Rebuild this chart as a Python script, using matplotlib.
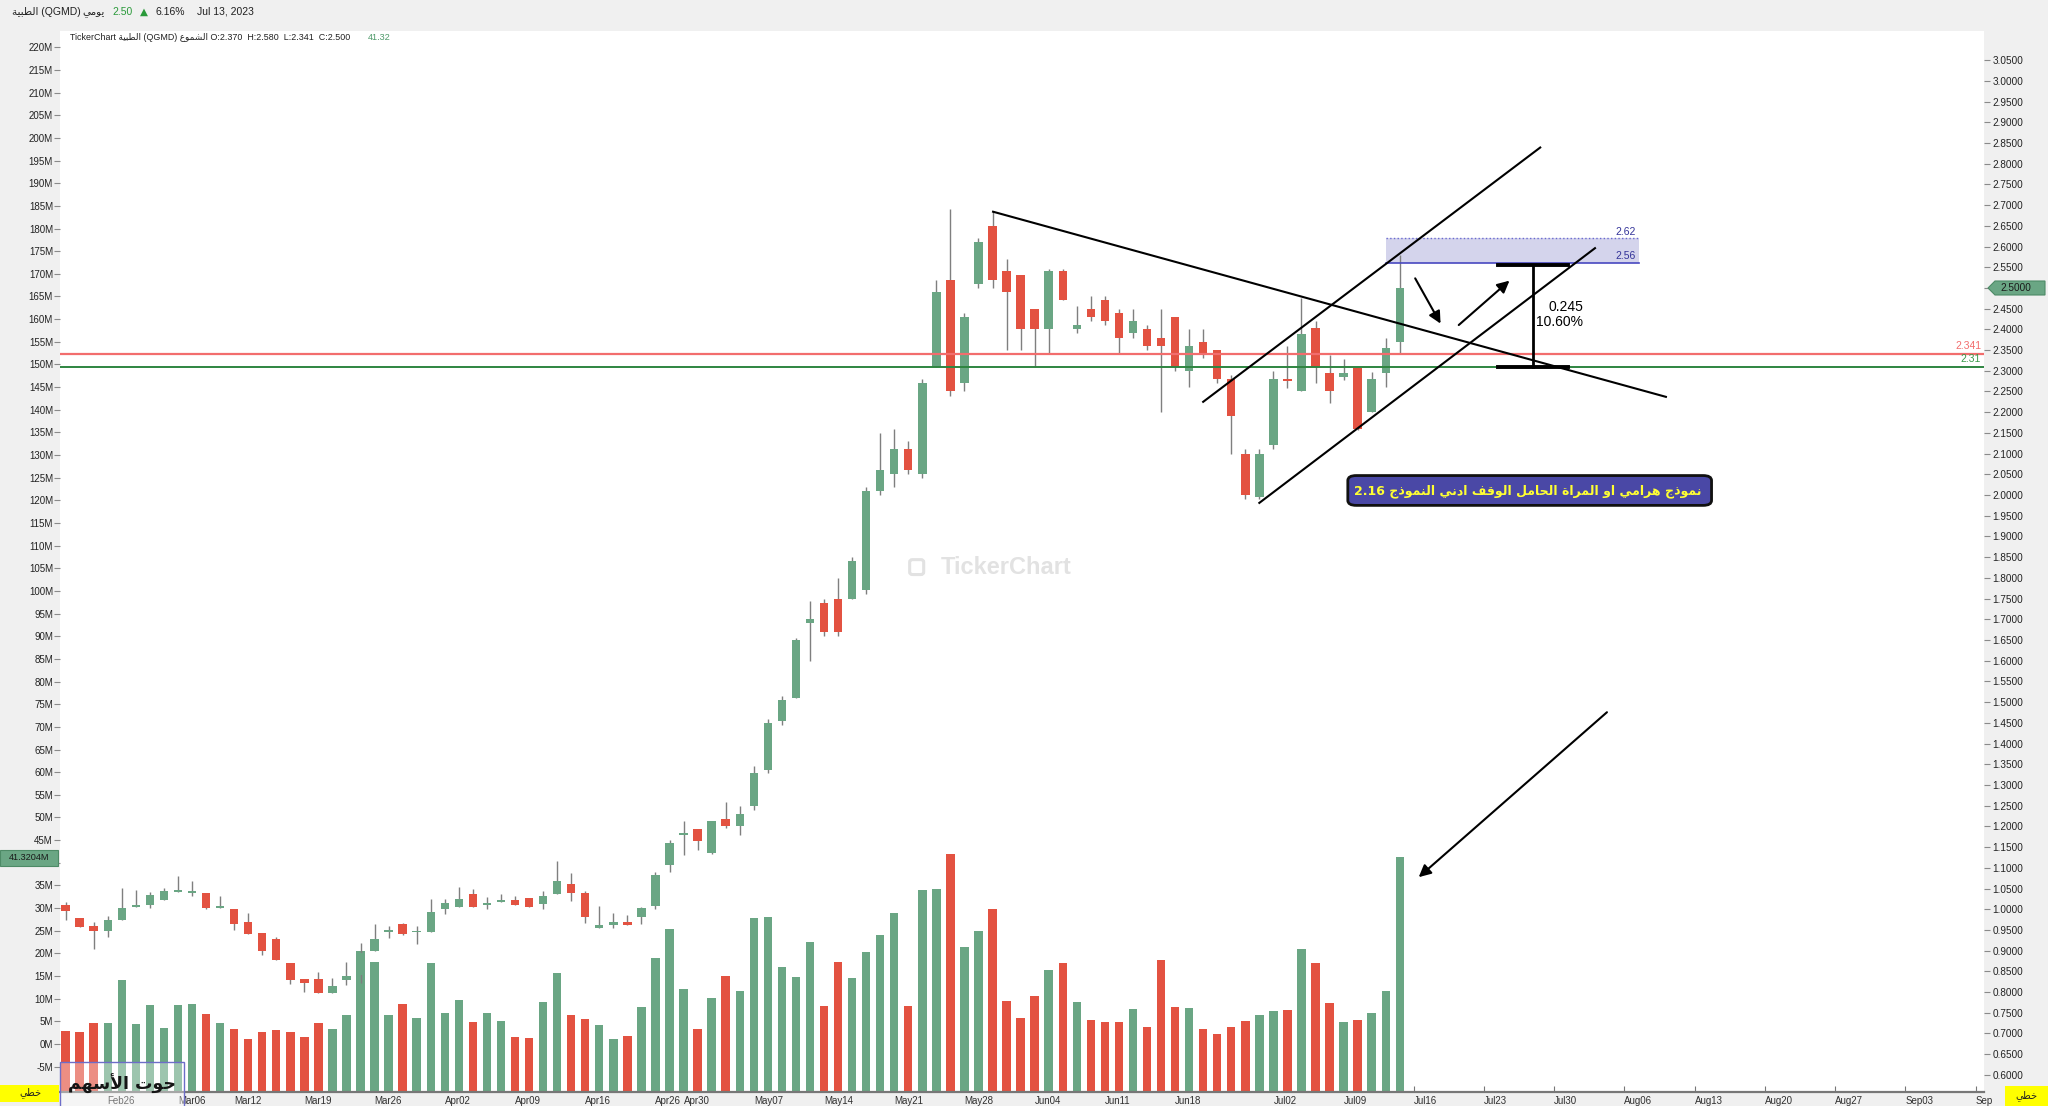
import matplotlib
matplotlib.use("Agg")
import matplotlib.pyplot as plt
from matplotlib.patches import Rectangle, FancyBboxPatch, Polygon
import numpy as np
import pandas as pd

plt.rcParams['font.family'] = ['Liberation Sans', 'DejaVu Sans']

# ---------------------------------------------------------------- data
opens = [1.009, 0.979, 0.959, 0.948, 0.975, 1.006, 1.010, 1.022, 1.042, 1.040,
         1.039, 1.004, 1.000, 0.969, 0.942, 0.928, 0.870, 0.831, 0.831, 0.797,
         0.830, 0.840, 0.898, 0.944, 0.964, 0.944, 0.944, 1.000, 1.006, 1.037,
         1.011, 1.017, 1.022, 1.028, 1.012, 1.036, 1.062, 1.039, 0.954, 0.963,
         0.968, 0.982, 1.008, 1.107, 1.179, 1.193, 1.135, 1.218, 1.200, 1.250,
         1.335, 1.455, 1.510, 1.690, 1.740, 1.750, 1.750, 1.770, 2.010, 2.050,
         2.110, 2.050, 2.310, 2.520, 2.270, 2.510, 2.650, 2.540, 2.530, 2.450,
         2.400, 2.540, 2.400, 2.450, 2.470, 2.440, 2.390, 2.400, 2.380, 2.430,
         2.300, 2.370, 2.350, 2.280, 2.100, 1.995, 2.120, 2.280, 2.251, 2.404,
         2.295, 2.284, 2.307, 2.200, 2.295, 2.370]
highs = [1.017, 0.979, 0.970, 0.983, 1.051, 1.046, 1.042, 1.052, 1.080, 1.069,
         1.039, 1.033, 1.000, 0.992, 0.942, 0.932, 0.870, 0.831, 0.848, 0.833,
         0.872, 0.919, 0.964, 0.959, 0.967, 0.959, 1.024, 1.024, 1.054, 1.050,
         1.029, 1.037, 1.033, 1.028, 1.044, 1.116, 1.088, 1.045, 1.007, 0.990,
         0.985, 1.006, 1.089, 1.167, 1.212, 1.193, 1.213, 1.260, 1.249, 1.345,
         1.460, 1.515, 1.655, 1.745, 1.750, 1.800, 1.850, 2.020, 2.150, 2.160,
         2.130, 2.280, 2.520, 2.690, 2.440, 2.620, 2.685, 2.570, 2.530, 2.450,
         2.545, 2.545, 2.457, 2.480, 2.480, 2.450, 2.450, 2.410, 2.450, 2.430,
         2.400, 2.400, 2.350, 2.290, 2.110, 2.110, 2.300, 2.360, 2.476, 2.421,
         2.338, 2.328, 2.307, 2.296, 2.379, 2.580]
lows = [0.975, 0.958, 0.905, 0.934, 0.975, 1.006, 1.004, 1.022, 1.042, 1.033,
        1.000, 1.004, 0.950, 0.941, 0.889, 0.877, 0.819, 0.801, 0.797, 0.797,
        0.818, 0.821, 0.898, 0.930, 0.938, 0.915, 0.944, 0.989, 1.006, 1.006,
        1.000, 1.017, 1.010, 1.005, 1.000, 1.036, 1.020, 0.967, 0.954, 0.954,
        0.962, 0.964, 1.000, 1.091, 1.132, 1.144, 1.133, 1.196, 1.180, 1.240,
        1.330, 1.445, 1.510, 1.600, 1.660, 1.660, 1.750, 1.760, 2.000, 2.020,
        2.050, 2.040, 2.310, 2.240, 2.250, 2.500, 2.500, 2.350, 2.350, 2.310,
        2.344, 2.470, 2.390, 2.420, 2.410, 2.340, 2.380, 2.350, 2.200, 2.300,
        2.260, 2.330, 2.270, 2.100, 1.990, 1.990, 2.110, 2.258, 2.251, 2.270,
        2.221, 2.278, 2.157, 2.200, 2.262, 2.341]
closes = [0.995, 0.958, 0.948, 0.974, 1.004, 1.009, 1.034, 1.043, 1.045, 1.043,
          1.002, 1.007, 0.965, 0.941, 0.899, 0.877, 0.830, 0.823, 0.797, 0.814,
          0.838, 0.895, 0.928, 0.950, 0.941, 0.947, 0.994, 1.016, 1.024, 1.006,
          1.016, 1.022, 1.010, 1.005, 1.033, 1.069, 1.038, 0.982, 0.962, 0.968,
          0.962, 1.002, 1.082, 1.159, 1.184, 1.165, 1.213, 1.201, 1.230, 1.330,
          1.450, 1.505, 1.650, 1.700, 1.670, 1.670, 1.840, 2.010, 2.060, 2.110,
          2.060, 2.270, 2.490, 2.250, 2.430, 2.610, 2.520, 2.490, 2.400, 2.400,
          2.540, 2.470, 2.410, 2.430, 2.420, 2.380, 2.420, 2.360, 2.360, 2.310,
          2.360, 2.340, 2.280, 2.190, 2.000, 2.100, 2.280, 2.276, 2.389, 2.310,
          2.251, 2.295, 2.159, 2.280, 2.355, 2.500]
volume_m = [2.95, 2.7, 4.7, 4.6, 14.1, 4.4, 8.6, 3.5, 8.6, 8.9,
            6.6, 4.6, 3.3, 1.2, 2.6, 3.1, 2.6, 1.6, 4.7, 3.3,
            6.5, 20.5, 18.1, 6.5, 8.9, 5.7, 17.9, 6.9, 9.7, 4.9,
            6.9, 5.1, 1.6, 1.4, 9.2, 15.7, 6.4, 5.5, 4.1, 1.0,
            1.8, 8.1, 18.9, 25.4, 12.2, 3.3, 10.2, 14.9, 11.8, 27.9,
            28.0, 17.1, 14.7, 22.6, 8.4, 18.0, 14.5, 20.4, 24.1, 29.0,
            8.4, 33.9, 34.3, 41.9, 21.4, 24.9, 29.8, 9.4, 5.7, 10.5,
            16.4, 17.8, 9.3, 5.3, 4.9, 4.9, 7.8, 3.8, 18.5, 8.2,
            8.0, 3.3, 2.1, 3.7, 5.0, 6.4, 7.2, 7.4, 20.9, 17.9,
            9.0, 4.9, 5.2, 6.9, 11.7, 41.3204]

# Qatar Exchange sessions (Sun-Thu) and market holidays in the period
session_holidays = ['2023-03-05', '2023-04-23', '2023-04-24', '2023-04-25',
                    '2023-06-27', '2023-06-28', '2023-06-29']
first_session = '2023-02-21'
date_ticks = ['2023-02-26', '2023-03-06', '2023-03-12', '2023-03-19', '2023-03-26',
              '2023-04-02', '2023-04-09', '2023-04-16', '2023-04-26', '2023-04-30',
              '2023-05-07', '2023-05-14', '2023-05-21', '2023-05-28', '2023-06-04',
              '2023-06-11', '2023-06-18', '2023-07-02', '2023-07-09', '2023-07-16',
              '2023-07-23', '2023-07-30', '2023-08-06', '2023-08-13', '2023-08-20',
              '2023-08-27', '2023-09-03', '2023-09-10']

# drawn levels / studies
stop_level = 2.341
support_level = 2.31
zone_low, zone_high = 2.56, 2.62
move_points, move_pct = 0.245, 10.60
last_price = 2.50
last_change_pct = 6.16

# ---------------------------------------------------------------- arabic shaping
_DUAL = {'ئ': 0xFE89, 'ب': 0xFE8F, 'ت': 0xFE95, 'ث': 0xFE99, 'ج': 0xFE9D, 'ح': 0xFEA1,
         'خ': 0xFEA5, 'س': 0xFEB1, 'ش': 0xFEB5, 'ص': 0xFEB9, 'ض': 0xFEBD, 'ط': 0xFEC1,
         'ظ': 0xFEC5, 'ع': 0xFEC9, 'غ': 0xFECD, 'ف': 0xFED1, 'ق': 0xFED5, 'ك': 0xFED9,
         'ل': 0xFEDD, 'م': 0xFEE1, 'ن': 0xFEE5, 'ه': 0xFEE9, 'ي': 0xFEF1}
_RIGHT = {'آ': 0xFE81, 'أ': 0xFE83, 'ؤ': 0xFE85, 'إ': 0xFE87, 'ا': 0xFE8D, 'ة': 0xFE93,
          'د': 0xFEA9, 'ذ': 0xFEAB, 'ر': 0xFEAD, 'ز': 0xFEAF, 'و': 0xFEED, 'ى': 0xFEEF}
_LAM_ALEF = {'آ': 0xFEF5, 'أ': 0xFEF7, 'إ': 0xFEF9, 'ا': 0xFEFB}


def ar(text):
    """Contextual shaping + right-to-left ordering for an Arabic string."""
    units, i = [], 0
    while i < len(text):
        c = text[i]
        if c == 'ل' and i + 1 < len(text) and text[i + 1] in _LAM_ALEF:
            units.append(('LA', text[i + 1]))
            i += 2
        else:
            units.append(('C', c))
            i += 1

    def is_letter(u):
        return u[0] == 'LA' or u[1] in _DUAL or u[1] in _RIGHT

    def links_forward(u):
        return u[0] == 'C' and u[1] in _DUAL

    out = []
    for k, u in enumerate(units):
        prev = units[k - 1] if k > 0 else None
        nxt = units[k + 1] if k + 1 < len(units) else None
        cp = prev is not None and links_forward(prev) and is_letter(u)
        cn = nxt is not None and links_forward(u) and is_letter(nxt)
        if u[0] == 'LA':
            out.append(chr(_LAM_ALEF[u[1]] + (1 if cp else 0)))
        elif u[1] in _DUAL:
            off = 3 if (cp and cn) else 1 if cp else 2 if cn else 0
            out.append(chr(_DUAL[u[1]] + off))
        elif u[1] in _RIGHT:
            out.append(chr(_RIGHT[u[1]] + (1 if cp else 0)))
        else:
            out.append(u[1])
    return ''.join(reversed(out))


# ---------------------------------------------------------------- layout
W, H = 2048, 1106
fig = plt.figure(figsize=(W / 100, H / 100), dpi=100, facecolor='#f0f0f0')

L_PX, R_PX, T_PX, B_PX = 60, 1984, 31, 1092
rect = [L_PX / W, 1 - B_PX / H, (R_PX - L_PX) / W, (B_PX - T_PX) / H]


def fx(x):
    return x / W


def fy(y):
    return 1 - y / H


ax_vol = fig.add_axes(rect, facecolor='white')
ax = fig.add_axes(rect, facecolor='none', sharex=ax_vol)

GREEN = '#6aa684'
RED = '#e35241'
WICK = '#7f7f7f'

o = np.array(opens)
h = np.array(highs)
lo = np.array(lows)
c = np.array(closes)
v = np.array(volume_m)
n = len(o)
idx = np.arange(n)
up = c >= o
colors = np.where(up, GREEN, RED)

# sessions -> positions on the x axis
sessions = pd.bdate_range(first_session, '2023-09-30', freq='C',
                          weekmask='Sun Mon Tue Wed Thu', holidays=session_holidays)
pos_of = {d.strftime('%Y-%m-%d'): k for k, d in enumerate(sessions)}
tick_pos = [pos_of[d] for d in date_ticks]
tick_lbl = [pd.Timestamp(d).strftime('%b%d') for d in date_ticks]

# volume pane scale (left)
VOL_LO, VOL_HI = -10.6, 223.6
ax_vol.set_ylim(VOL_LO, VOL_HI)
ax_vol.bar(idx, v - VOL_LO, bottom=VOL_LO, width=0.6, color=colors, zorder=2)

# price pane scale (right)
P_LO, P_HI = 0.5587, 3.1203
ax.set_ylim(P_LO, P_HI)
ax.set_xlim(-0.4, 136.6)
ax.vlines(idx, lo, h, color=WICK, lw=1.0, zorder=3)
body_lo = np.minimum(o, c)
body_h = np.maximum(np.abs(c - o), 0.004)
ax.bar(idx, body_h, bottom=body_lo, width=0.6, color=colors, zorder=4)

# axes styling
for a in (ax, ax_vol):
    for s in a.spines.values():
        s.set_visible(False)
ax_vol.spines['bottom'].set_visible(True)
ax_vol.spines['bottom'].set_color('#777777')
ax_vol.spines['bottom'].set_linewidth(1.6)

# the last-value tags sit on top of the 40M and 2.5000 labels
vt = list(range(-5, 221, 5))
ax_vol.set_yticks(vt)
ax_vol.set_yticklabels(['' if t == 40 else f'{t}M' for t in vt])
ax_vol.tick_params(axis='y', left=True, labelleft=True, right=False, labelright=False,
                   length=4, width=0.8, color='#8a8a8a', labelsize=7, labelcolor='#222222', pad=1)

pt = np.round(np.arange(0.60, 3.0501, 0.05), 2)
ax.set_yticks(pt)
ax.set_yticklabels(['' if abs(t - last_price) < 1e-9 else f'{t:.4f}' for t in pt])
ax.yaxis.tick_right()
ax.tick_params(axis='y', left=False, labelleft=False, right=True, labelright=True,
               length=4, width=0.8, color='#8a8a8a', labelsize=7.2, labelcolor='#222222', pad=2)

ax_vol.set_xticks(tick_pos)
ax_vol.set_xticklabels(tick_lbl, ha='left')
ax_vol.tick_params(axis='x', direction='in', length=4, color='#777777', labelsize=7,
                   labelcolor='#303030', pad=3)
ax.tick_params(axis='x', bottom=False, labelbottom=False)

# horizontal levels
ax.axhline(stop_level, color='#f26d6d', lw=1.6, zorder=5)
ax.axhline(support_level, color='#2e8540', lw=1.4, zorder=5)
ax.text(136.4, stop_level + 0.006, f'{stop_level:g}', color='#f26d6d', fontsize=7.5,
        ha='right', va='bottom', zorder=6)
ax.text(136.4, support_level + 0.006, f'{support_level:g}', color='#3a9a4a', fontsize=7.5,
        ha='right', va='bottom', zorder=6)

# target zone
ax.add_patch(Rectangle((94.0, zone_low), 18.0, zone_high - zone_low, facecolor='#d4d4ec',
                       edgecolor='none', zorder=1.5))
ax.plot([94.0, 112.0], [zone_high, zone_high], color='#6a6ad0', lw=1.0, ls=':', zorder=6)
ax.plot([94.0, 112.0], [zone_low, zone_low], color='#4848c0', lw=1.2, zorder=6)
ax.text(111.8, zone_high + 0.004, f'{zone_high:.2f}', color='#333399', fontsize=7.5,
        ha='right', va='bottom', zorder=6)
ax.text(111.8, zone_low + 0.004, f'{zone_low:.2f}', color='#333399', fontsize=7.5,
        ha='right', va='bottom', zorder=6)

# trend lines / channel
ax.plot([66.04, 113.95], [2.684, 2.237], color='black', lw=1.5, zorder=6)
ax.plot([81.0, 105.0], [2.225, 2.839], color='black', lw=1.5, zorder=6)
ax.plot([85.0, 108.9], [1.981, 2.596], color='black', lw=1.5, zorder=6)

# measured move
ax.plot([104.5, 104.5], [support_level, zone_low - 0.005], color='black', lw=2.0, zorder=7)
ax.plot([102.0, 107.0], [support_level, support_level], color='black', lw=2.8, zorder=7)
ax.plot([102.0, 107.0], [zone_low - 0.005, zone_low - 0.005], color='black', lw=2.8, zorder=7)
ax.text(105.6, 2.455, f'{move_points:.3f}', fontsize=10, ha='left', va='center', zorder=7)
ax.text(104.7, 2.417, f'{move_pct:.2f}%', fontsize=10, ha='left', va='center', zorder=7)

arrow_kw = dict(arrowstyle='-|>', color='black', lw=1.5, mutation_scale=18)
ax.annotate('', xy=(98.0, 2.408), xytext=(96.0, 2.529), arrowprops=arrow_kw, zorder=7)
ax.annotate('', xy=(102.96, 2.522), xytext=(99.05, 2.406), arrowprops=arrow_kw, zorder=7)
ax.annotate('', xy=(96.2, 1.073), xytext=(109.9, 1.480), arrowprops=arrow_kw, zorder=7)

# pattern note
ax.add_patch(FancyBboxPatch((91.3, 1.975), 25.9, 0.072, boxstyle='round,pad=0,rounding_size=0.6',
                            mutation_aspect=0.02, facecolor='#4a48a6', edgecolor='#111111',
                            lw=2.0, zorder=8))
note = '2.16 ' + ar('نموذج هرامي او المراة الحامل الوقف ادني النموذج')
ax.text(91.75, 2.010, note, color='#ffff33', fontsize=9.0, fontweight='bold',
        ha='left', va='center', zorder=9, family=['DejaVu Sans'])

# chart watermark
ax.text(67.0, 1.826, 'TickerChart', color='#e2e2e2', fontsize=17, fontweight='bold',
        ha='center', va='center', zorder=1)
ax.add_patch(FancyBboxPatch((60.1, 1.808), 1.0, 0.036, boxstyle='round,pad=0,rounding_size=0.2',
                            mutation_aspect=0.03, facecolor='none', edgecolor='#e2e2e2',
                            lw=2.2, zorder=1))

# ---------------------------------------------------------------- header / frame texts
fig.text(fx(12), fy(12), ar('الطبية') + ' (QGMD)', fontsize=7.5, va='center', color='#202020')
fig.text(fx(82), fy(12), ar('يومي'), fontsize=7.5, va='center', color='#202020')
fig.text(fx(112), fy(12), f'{last_price:.2f}', fontsize=7.5, va='center', color='#2a9a3a')
fig.text(fx(140), fy(12), '▲', fontsize=7.5, va='center', color='#2a9a3a', family=['DejaVu Sans'])
fig.text(fx(155), fy(12), f'{last_change_pct:.2f}%', fontsize=7.5, va='center', color='#202020')
fig.text(fx(197), fy(12), 'Jul 13, 2023', fontsize=7.5, va='center', color='#202020')

ohlc = (f'TickerChart {ar("الطبية")} (QGMD) {ar("الشموع")} '
        f'O:{o[-1]:.3f}  H:{h[-1]:.3f}  L:{lo[-1]:.3f}  C:{c[-1]:.3f}')
fig.text(fx(70), fy(37), ohlc, fontsize=6.4, va='center', color='#202020')
fig.text(fx(368), fy(37), f'{v[-1]:.2f}', fontsize=6.6, va='center', color='#4f9a6a')

# last-value tags
fig.patches.append(Rectangle((fx(0), fy(866)), fx(58), fy(850) - fy(866), transform=fig.transFigure,
                             facecolor=GREEN, edgecolor='#4d8a66', lw=0.8, zorder=10))
fig.text(fx(29), fy(858), f'{v[-1]:.4f}M', fontsize=6.6, ha='center', va='center',
         color='#1a1a1a', zorder=11)
fig.patches.append(Polygon([(fx(1988), fy(288)), (fx(1995), fy(281)), (fx(2045), fy(281)),
                            (fx(2045), fy(295)), (fx(1995), fy(295))], closed=True,
                           transform=fig.transFigure, facecolor=GREEN, edgecolor='#4d8a66',
                           lw=0.8, zorder=10))
fig.text(fx(2016), fy(288), f'{last_price:.4f}', fontsize=7.2, ha='center', va='center',
         color='#1a1a1a', zorder=11)

# right margin masks the date labels that run past the plot
fig.patches.append(Rectangle((fx(1992), fy(1106)), fx(56), fy(1093) - fy(1106), transform=fig.transFigure,
                             facecolor='#f0f0f0', edgecolor='none', zorder=9))

# scale-type boxes
fig.patches.append(Rectangle((fx(0), fy(1102)), fx(59), fy(1085) - fy(1102), transform=fig.transFigure,
                             facecolor='#ffff00', edgecolor='none', zorder=10))
fig.text(fx(30), fy(1093), ar('خطي'), fontsize=7, ha='center', va='center', color='#222222',
         zorder=11, family=['DejaVu Sans'])
fig.patches.append(Rectangle((fx(2005), fy(1106)), fx(43), fy(1086) - fy(1106), transform=fig.transFigure,
                             facecolor='#ffff00', edgecolor='none', zorder=10))
fig.text(fx(2026), fy(1096), ar('خطي'), fontsize=7, ha='center', va='center', color='#222222',
         zorder=11, family=['DejaVu Sans'])

# channel brand overlay
fig.patches.append(Rectangle((fx(60), fy(1110)), fx(124), fy(1062) - fy(1110), transform=fig.transFigure,
                             facecolor=(1, 1, 1, 0.35), edgecolor='#6d6dc8', lw=1.0, zorder=10))
fig.text(fx(122), fy(1084), ar('حوت الأسهم'), fontsize=12.5, fontweight='bold', ha='center',
         va='center', color='#151515', zorder=11, family=['DejaVu Sans'])

fig.savefig('out.png', dpi=100, facecolor=fig.get_facecolor())
